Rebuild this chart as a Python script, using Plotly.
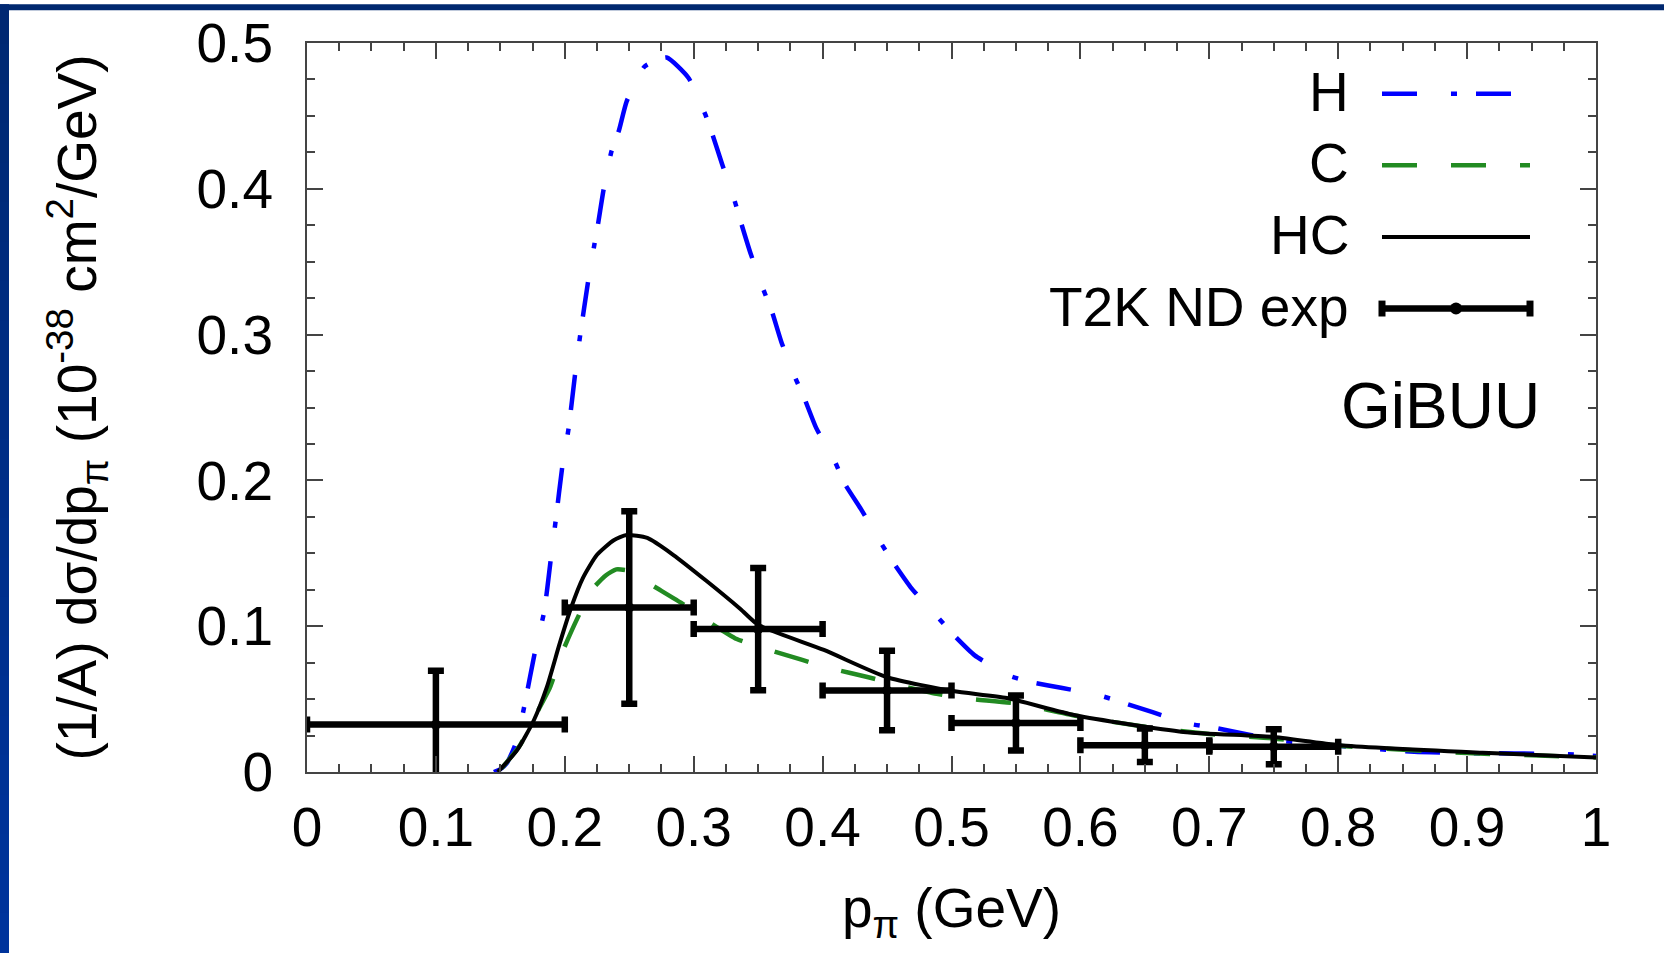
import plotly.graph_objects as go

# ---------------- data ----------------
h_x = [0.145, 0.15, 0.155, 0.163, 0.169, 0.177, 0.184, 0.189, 0.193, 0.198,
       0.203, 0.208, 0.212, 0.218, 0.223, 0.226, 0.230, 0.236, 0.242, 0.248, 0.262,
       0.279, 0.296, 0.309, 0.315, 0.322, 0.332, 0.337, 0.344, 0.354, 0.361, 0.368,
       0.379, 0.386, 0.395, 0.410, 0.417, 0.430, 0.446, 0.455, 0.469, 0.490, 0.501,
       0.518, 0.545, 0.562, 0.586, 0.615, 0.656, 0.685, 0.706, 0.753, 0.800, 0.859,
       0.900, 0.975, 1.0]
h_y = [0.0, 0.002, 0.006, 0.022, 0.047, 0.083, 0.110, 0.145, 0.173, 0.209,
       0.236, 0.273, 0.300, 0.336, 0.362, 0.377, 0.399, 0.425, 0.440, 0.460, 0.484,
       0.490, 0.476, 0.451, 0.436, 0.417, 0.391, 0.376, 0.356, 0.331, 0.315, 0.295,
       0.270, 0.256, 0.236, 0.212, 0.198, 0.180, 0.156, 0.1435, 0.126, 0.1055, 0.0946,
       0.080, 0.066, 0.0616, 0.0576, 0.0525, 0.041, 0.033, 0.030, 0.0218, 0.018, 0.0139,
       0.013, 0.0123, 0.011]

c_x = [0.151, 0.165, 0.178, 0.1885, 0.198, 0.209, 0.221, 0.232, 0.240, 0.250, 0.266,
       0.292, 0.3126, 0.3334, 0.3605, 0.408, 0.4355, 0.46, 0.4885, 0.512, 0.55, 0.6,
       0.65, 0.7, 0.75, 0.8, 0.9, 1.0]
c_y = [0.0025, 0.018, 0.040, 0.058, 0.082, 0.104, 0.125, 0.135, 0.139, 0.138, 0.129,
       0.115, 0.1025, 0.0912, 0.0832, 0.0707, 0.065, 0.0593, 0.0537, 0.0503, 0.047, 0.038,
       0.031, 0.026, 0.023, 0.018, 0.013, 0.0100]

hc_x = [0.148, 0.163, 0.176, 0.186, 0.196, 0.205, 0.214, 0.225, 0.238, 0.248, 0.264,
        0.284, 0.310, 0.336, 0.350, 0.401, 0.450, 0.501, 0.543, 0.596, 0.680, 0.748,
        0.801, 0.912, 1.0]
hc_y = [0.0, 0.015, 0.0355, 0.058, 0.088, 0.113, 0.133, 0.149, 0.159, 0.1625, 0.1605,
        0.149, 0.131, 0.112, 0.101, 0.0837, 0.065, 0.0555, 0.0507, 0.0389, 0.0275, 0.0241,
        0.0184, 0.0132, 0.010]

exp_x = [0.1, 0.25, 0.35, 0.45, 0.55, 0.65, 0.75]
exp_y = [0.0325, 0.1128, 0.098, 0.0559, 0.0336, 0.0184, 0.0173]
exp_xerr = [0.1, 0.05, 0.05, 0.05, 0.05, 0.05, 0.05]
exp_yerr = [0.037, 0.066, 0.042, 0.0273, 0.0189, 0.0115, 0.012]

legend_labels = ["H", "C", "HC", "T2K ND exp"]
tag_label = "GiBUU"

# ---------------- geometry ----------------
W, H = 1664, 953
L, R, T, B = 307, 1596, 39, 772
FONT = "Liberation Sans, Arial, sans-serif"
FS = 55


def px(x):
    return (x - L) / (R - L)


def py(y):
    return (B - y) / (B - T)


fig = go.Figure()

fig.add_trace(go.Scatter(x=h_x, y=h_y, mode="lines", name="H",
                         line=dict(color="#0000ff", width=4.5, dash="35px,34px,6px,19px",
                                   shape="spline", smoothing=0.5)))
fig.add_trace(go.Scatter(x=c_x, y=c_y, mode="lines", name="C",
                         line=dict(color="#228b22", width=4.5, dash="35px,34px",
                                   shape="spline", smoothing=0.5)))
fig.add_trace(go.Scatter(x=hc_x, y=hc_y, mode="lines", name="HC",
                         line=dict(color="black", width=4, shape="spline", smoothing=0.6)))
fig.add_trace(go.Scatter(
    x=exp_x, y=exp_y, mode="markers", name="T2K ND exp",
    marker=dict(color="black", size=10),
    error_x=dict(type="data", array=exp_xerr, color="black", thickness=6.5, width=8),
    error_y=dict(type="data", array=exp_yerr, color="black", thickness=6.5, width=8),
))

axis_common = dict(
    showgrid=False, zeroline=False, showline=True, linecolor="#444", linewidth=2,
    mirror="ticks", ticks="inside", ticklen=16, tickwidth=1.8, tickcolor="#444",
    tickfont=dict(family=FONT, size=FS, color="black"),
)

fig.update_xaxes(range=[0, 1], tick0=0, dtick=0.1,
                 minor=dict(dtick=0.025, ticks="inside", ticklen=8, tickwidth=1.8, tickcolor="#444"),
                 ticklabelstandoff=6,
                 title=dict(text="p<sub>π</sub> (GeV)", font=dict(family=FONT, size=FS, color="black"),
                            standoff=31),
                 **axis_common)
fig.update_yaxes(range=[0, 0.5], tick0=0, dtick=0.1,
                 minor=dict(dtick=0.025, ticks="inside", ticklen=8, tickwidth=1.8, tickcolor="#444"),
                 ticklabelstandoff=21,
                 title=dict(text="(1/A) dσ/dp<sub>π</sub> (10<sup>-38</sup> cm<sup>2</sup>/GeV)",
                            font=dict(family=FONT, size=FS, color="black"), standoff=82),
                 **axis_common)

shapes = []
# dark blue frame: top bar and left bar (gradient simulated by strips)
shapes.append(dict(type="rect", xref="paper", yref="paper",
                   x0=px(0), x1=px(W), y0=py(6), y1=py(0),
                   fillcolor="#00286f", line=dict(width=0)))
n = 24
c0 = (0x00, 0x28, 0x72)
c1 = (0x00, 0x34, 0x9c)
for i in range(n):
    t = i / (n - 1)
    col = "#%02x%02x%02x" % tuple(int(round(a + (b - a) * t)) for a, b in zip(c0, c1))
    shapes.append(dict(type="rect", xref="paper", yref="paper",
                       x0=px(0), x1=px(9), y0=py(H * (i + 1) / n + 1), y1=py(H * i / n),
                       fillcolor=col, line=dict(width=0)))

# legend samples
row_y = [90, 162, 234, 306]
lx0, lx1 = 1382, 1530
shapes.append(dict(type="line", xref="paper", yref="paper", x0=px(lx0), x1=px(lx1),
                   y0=py(row_y[0]), y1=py(row_y[0]),
                   line=dict(color="#0000ff", width=4.5, dash="35px,34px,6px,19px")))
shapes.append(dict(type="line", xref="paper", yref="paper", x0=px(lx0), x1=px(lx1),
                   y0=py(row_y[1]), y1=py(row_y[1]),
                   line=dict(color="#228b22", width=4.5, dash="35px,34px")))
shapes.append(dict(type="line", xref="paper", yref="paper", x0=px(lx0), x1=px(lx1),
                   y0=py(row_y[2]), y1=py(row_y[2]),
                   line=dict(color="black", width=4)))
shapes.append(dict(type="line", xref="paper", yref="paper", x0=px(lx0), x1=px(lx1),
                   y0=py(row_y[3]), y1=py(row_y[3]),
                   line=dict(color="black", width=6.5)))
for cx in (lx0, lx1):
    shapes.append(dict(type="rect", xref="paper", yref="paper",
                       x0=px(cx - 3.5), x1=px(cx + 3.5), y0=py(row_y[3] + 8), y1=py(row_y[3] - 8),
                       fillcolor="black", line=dict(width=0)))
shapes.append(dict(type="circle", xref="paper", yref="paper",
                   x0=px(1456 - 6), x1=px(1456 + 6), y0=py(row_y[3] + 6), y1=py(row_y[3] - 6),
                   fillcolor="black", line=dict(width=0)))

annotations = []
for lab, yy in zip(legend_labels, row_y):
    annotations.append(dict(text=lab, xref="paper", yref="paper", x=px(1351), y=py(yy - 2),
                            xanchor="right", yanchor="middle", showarrow=False,
                            font=dict(family=FONT, size=FS, color="black")))
annotations.append(dict(text=tag_label, xref="paper", yref="paper", x=px(1542), y=py(404),
                        xanchor="right", yanchor="middle", showarrow=False,
                        font=dict(family=FONT, size=64, color="black")))

fig.update_layout(
    width=W, height=H, autosize=False,
    margin=dict(l=L, r=W - R, t=T, b=H - B, pad=0),
    paper_bgcolor="white", plot_bgcolor="white",
    showlegend=False,
    shapes=shapes, annotations=annotations,
)

fig.write_html("out.html", config={"displayModeBar": False},
               post_script="document.body.style.margin='0';document.body.style.overflow='hidden';")
